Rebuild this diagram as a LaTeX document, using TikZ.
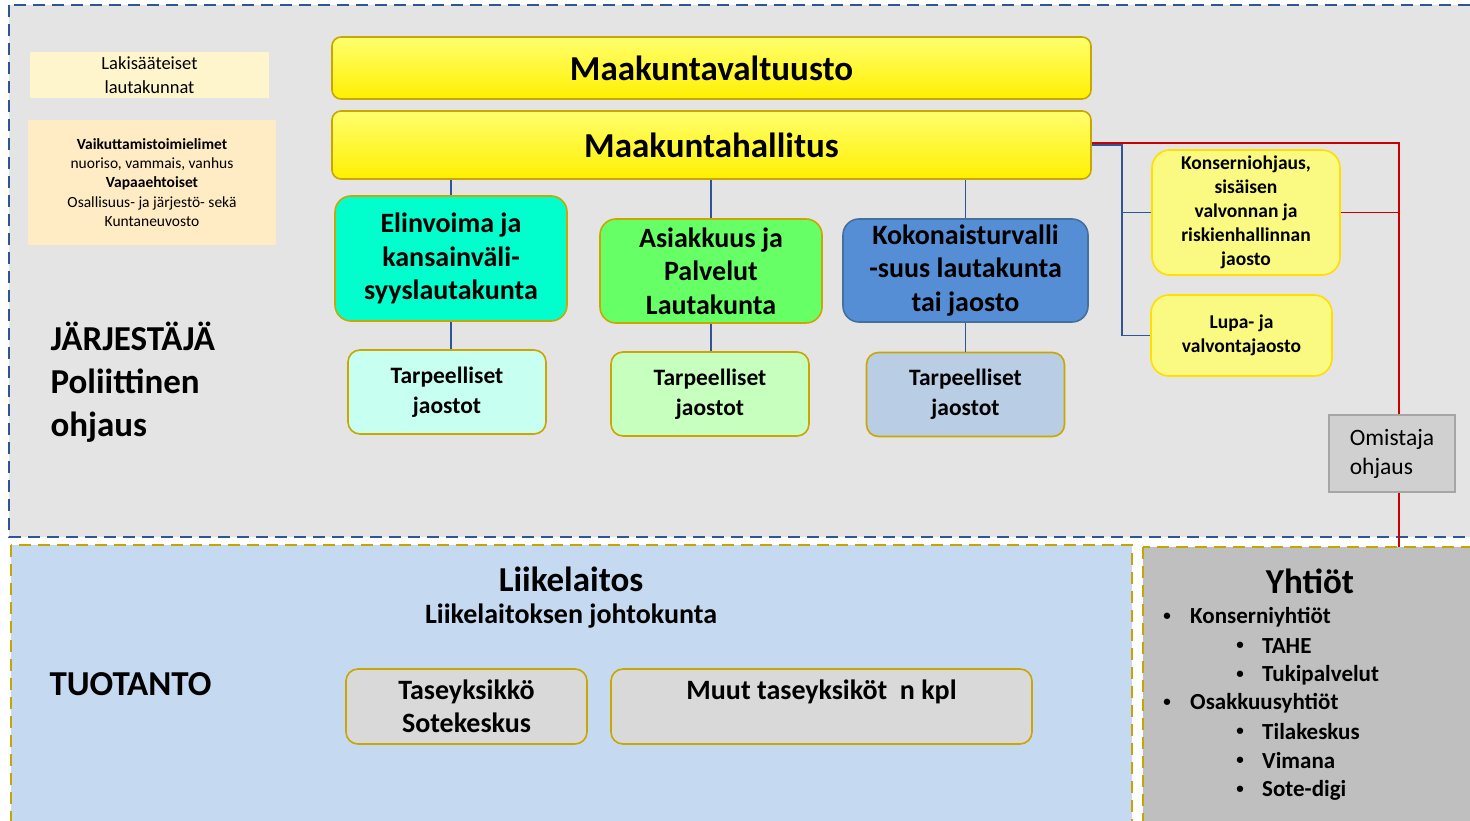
\documentclass[tikz,border=0pt]{standalone}
\usepackage{fontspec}
\setmainfont{Carlito}
\usetikzlibrary{positioning}

\definecolor{panelgray}{RGB}{228,228,228}
\definecolor{panelblue}{RGB}{47,85,151}
\definecolor{panelgold}{RGB}{196,166,0}
\definecolor{liikeblue}{RGB}{197,217,241}
\definecolor{yhtiogray}{RGB}{191,191,191}
\definecolor{boxgold}{RGB}{201,166,0}
\definecolor{elingreen}{RGB}{0,255,204}
\definecolor{asiakgreen}{RGB}{102,255,102}
\definecolor{kokblue}{RGB}{85,142,213}
\definecolor{kokedge}{RGB}{65,113,156}
\definecolor{tarpone}{RGB}{199,255,240}
\definecolor{tarptwo}{RGB}{198,255,190}
\definecolor{tarpthree}{RGB}{185,205,229}
\definecolor{jaostofill}{RGB}{250,250,130}
\definecolor{jaostoedge}{RGB}{255,222,0}
\definecolor{lakifill}{RGB}{255,245,204}
\definecolor{vaikfill}{RGB}{255,236,196}
\definecolor{omfill}{RGB}{208,208,208}
\definecolor{omedge}{RGB}{166,166,166}
\definecolor{taselgray}{RGB}{217,217,217}
\definecolor{redline}{RGB}{200,0,0}

\newcommand{\setfs}[2]{\fontsize{#1}{#2}\selectfont}

\tikzset{
  orgbox/.style={draw=boxgold, line width=1.6pt, rounded corners=16pt,
    align=center, inner sep=0pt},
  mkbox/.style={orgbox, rounded corners=9pt, top color={rgb,255:red,255;green,255;blue,110},
    bottom color={rgb,255:red,255;green,240;blue,0}, minimum width=759pt,
    font=\setfs{35}{42}\bfseries},
  lautabox/.style={orgbox, font=\setfs{28}{33.5}\bfseries},
  tarpbox/.style={orgbox, rounded corners=12pt, minimum width=198pt, minimum height=84pt,
    font=\setfs{23.5}{30}\bfseries},
  jaostobox/.style={orgbox, draw=jaostoedge, fill=jaostofill, rounded corners=18pt,
    font=\setfs{19.5}{24}\bfseries},
  notebox/.style={fill=#1, align=center, inner sep=0pt},
  tasebox/.style={orgbox, fill=taselgray, rounded corners=12pt, minimum height=75pt,
    font=\setfs{28}{33}\bfseries},
  conn/.style={draw=panelblue, line width=1.3pt},
  redconn/.style={draw=redline, line width=1.5pt},
  dashpanel/.style={line width=1.8pt, dash pattern=on 12pt off 7pt},
  pallo/.style={font=\setfs{15}{18}\bfseries, inner sep=0pt}
}

\begin{document}
\begin{tikzpicture}[x=1pt, y=-1pt]
\useasboundingbox (0,0) rectangle (1470,821);

% we draw the panels
\draw[dashpanel, draw=panelblue, fill=panelgray] (9,5) rectangle (1490,537);
\draw[dashpanel, draw=panelgold, fill=liikeblue] (11,545) rectangle (1132,840);
\draw[dashpanel, draw=panelgold, fill=yhtiogray] (1143,547) rectangle (1490,840);

% left notes
\node[notebox=lakifill, minimum width=239pt, minimum height=46pt, font=\setfs{18.5}{24}]
  (laki) at (149.5,75) {Lakisääteiset\\lautakunnat};
\node[notebox=vaikfill, minimum width=248pt, minimum height=125pt, font=\setfs{15.5}{19.3}]
  (vaik) at (152,182.5) {\textbf{Vaikuttamistoimielimet}\\nuoriso, vammais, vanhus\\
  \textbf{Vapaaehtoiset}\\Osallisuus- ja järjestö- sekä\\Kuntaneuvosto};

\node[anchor=west, align=left, font=\setfs{35}{43}\bfseries] (jarj) at (47,382)
  {JÄRJESTÄJÄ\\Poliittinen\\ohjaus};

% top level
\node[mkbox, minimum height=62pt] (valtuusto) at (711.5,68) {Maakuntavaltuusto};
\node[mkbox, minimum height=68pt] (hallitus) at (711.5,145) {Maakuntahallitus};

% lautakunnat
\node[lautabox, fill=elingreen, minimum width=232pt, minimum height=125pt]
  (elin) at (451,258.5) {Elinvoima ja\\kansainväli-\\syyslautakunta};
\node[lautabox, fill=asiakgreen, minimum width=222pt, minimum height=104pt]
  (asiak) at (711,271) {Asiakkuus ja\\Palvelut\\Lautakunta};
\node[lautabox, draw=kokedge, fill=kokblue, minimum width=245pt, minimum height=103pt]
  (kok) at (965.5,270.5) {Kokonaisturvalli\\-suus lautakunta\\tai jaosto};

\node[tarpbox, fill=tarpone] (tarp1) at (447,392) {Tarpeelliset\\jaostot};
\node[tarpbox, fill=tarptwo] (tarp2) at (710,394) {Tarpeelliset\\jaostot};
\node[tarpbox, fill=tarpthree] (tarp3) at (965.5,394.5) {Tarpeelliset\\jaostot};

% jaostot on the right
\node[jaostobox, minimum width=188pt, minimum height=125pt] (konserni) at (1246,212.5)
  {Konserniohjaus,\\sisäisen\\valvonnan ja\\riskienhallinnan\\jaosto};
\node[jaostobox, minimum width=181pt, minimum height=81pt] (lupa) at (1241.5,335.5)
  {Lupa- ja\\valvontajaosto};

\node[draw=omedge, fill=omfill, line width=1.6pt, minimum width=126pt, minimum height=77pt,
  align=left, inner sep=0pt, font=\setfs{23.5}{29}] (omistaja) at (1392,453.5)
  {Omistaja\\ohjaus};

% connectors
\draw[conn] (hallitus.south -| elin.north) -- (elin.north);
\draw[conn] (hallitus.south -| asiak.north) -- (asiak.north);
\draw[conn] (hallitus.south -| kok.north) -- (kok.north);
\draw[conn] (elin.south) -- (elin.south |- tarp1.north);
\draw[conn] (asiak.south) -- (asiak.south |- tarp2.north);
\draw[conn] (kok.south) -- (kok.south |- tarp3.north);

\coordinate (bluebend) at (1122,145);
\draw[conn] (hallitus.east) -- (bluebend) |- (lupa.west);
\draw[conn] (bluebend) |- (konserni.west);

\coordinate (redtop) at (1399,143);
\coordinate (redbottom) at (1399,547);
\draw[redconn] ([yshift=2pt]hallitus.east) -- (redtop) -- (redtop |- omistaja.north);
\draw[redconn] (konserni.east) -- (konserni.east -| redtop);
\draw[redconn] (omistaja.south -| redtop) -- (redbottom);

% tuotanto
\node[anchor=west, font=\setfs{35}{42}\bfseries] (tuotanto) at (46,684) {TUOTANTO};
\node[font=\setfs{35}{42}\bfseries] (liike) at (571,579) {Liikelaitos};
\node[font=\setfs{28}{33}\bfseries] (johto) at (571,616) {Liikelaitoksen johtokunta};

\node[tasebox, minimum width=241pt] (tase) at (466.5,706.5) {Taseyksikkö\\Sotekeskus};
\node[tasebox, minimum width=421pt] (muut) at (821.5,706.5)
  {Muut taseyksiköt~~n kpl\\\mbox{}};

% yhtiot
\node[font=\setfs{35}{42}\bfseries] (yhtiot) at (1310,581) {Yhtiöt};
\foreach \nimi/\taso/\y in {Konserniyhtiöt/1/617, TAHE/2/646, Tukipalvelut/2/675,
  Osakkuusyhtiöt/1/703, Tilakeskus/2/732, Vimana/2/761, Sote-digi/2/790}{
  \ifnum\taso=1
    \node[pallo] (pallo\y) at (1167,\y) {•};
    \node[anchor=west, inner sep=0pt, font=\setfs{23}{29}\bfseries] (yhtio\y) at (1190,\y) {\nimi};
  \else
    \node[pallo] (pallo\y) at (1240,\y) {•};
    \node[anchor=west, inner sep=0pt, font=\setfs{23}{29}\bfseries] (yhtio\y) at (1262,\y) {\nimi};
  \fi
}

\end{tikzpicture}
\end{document}
